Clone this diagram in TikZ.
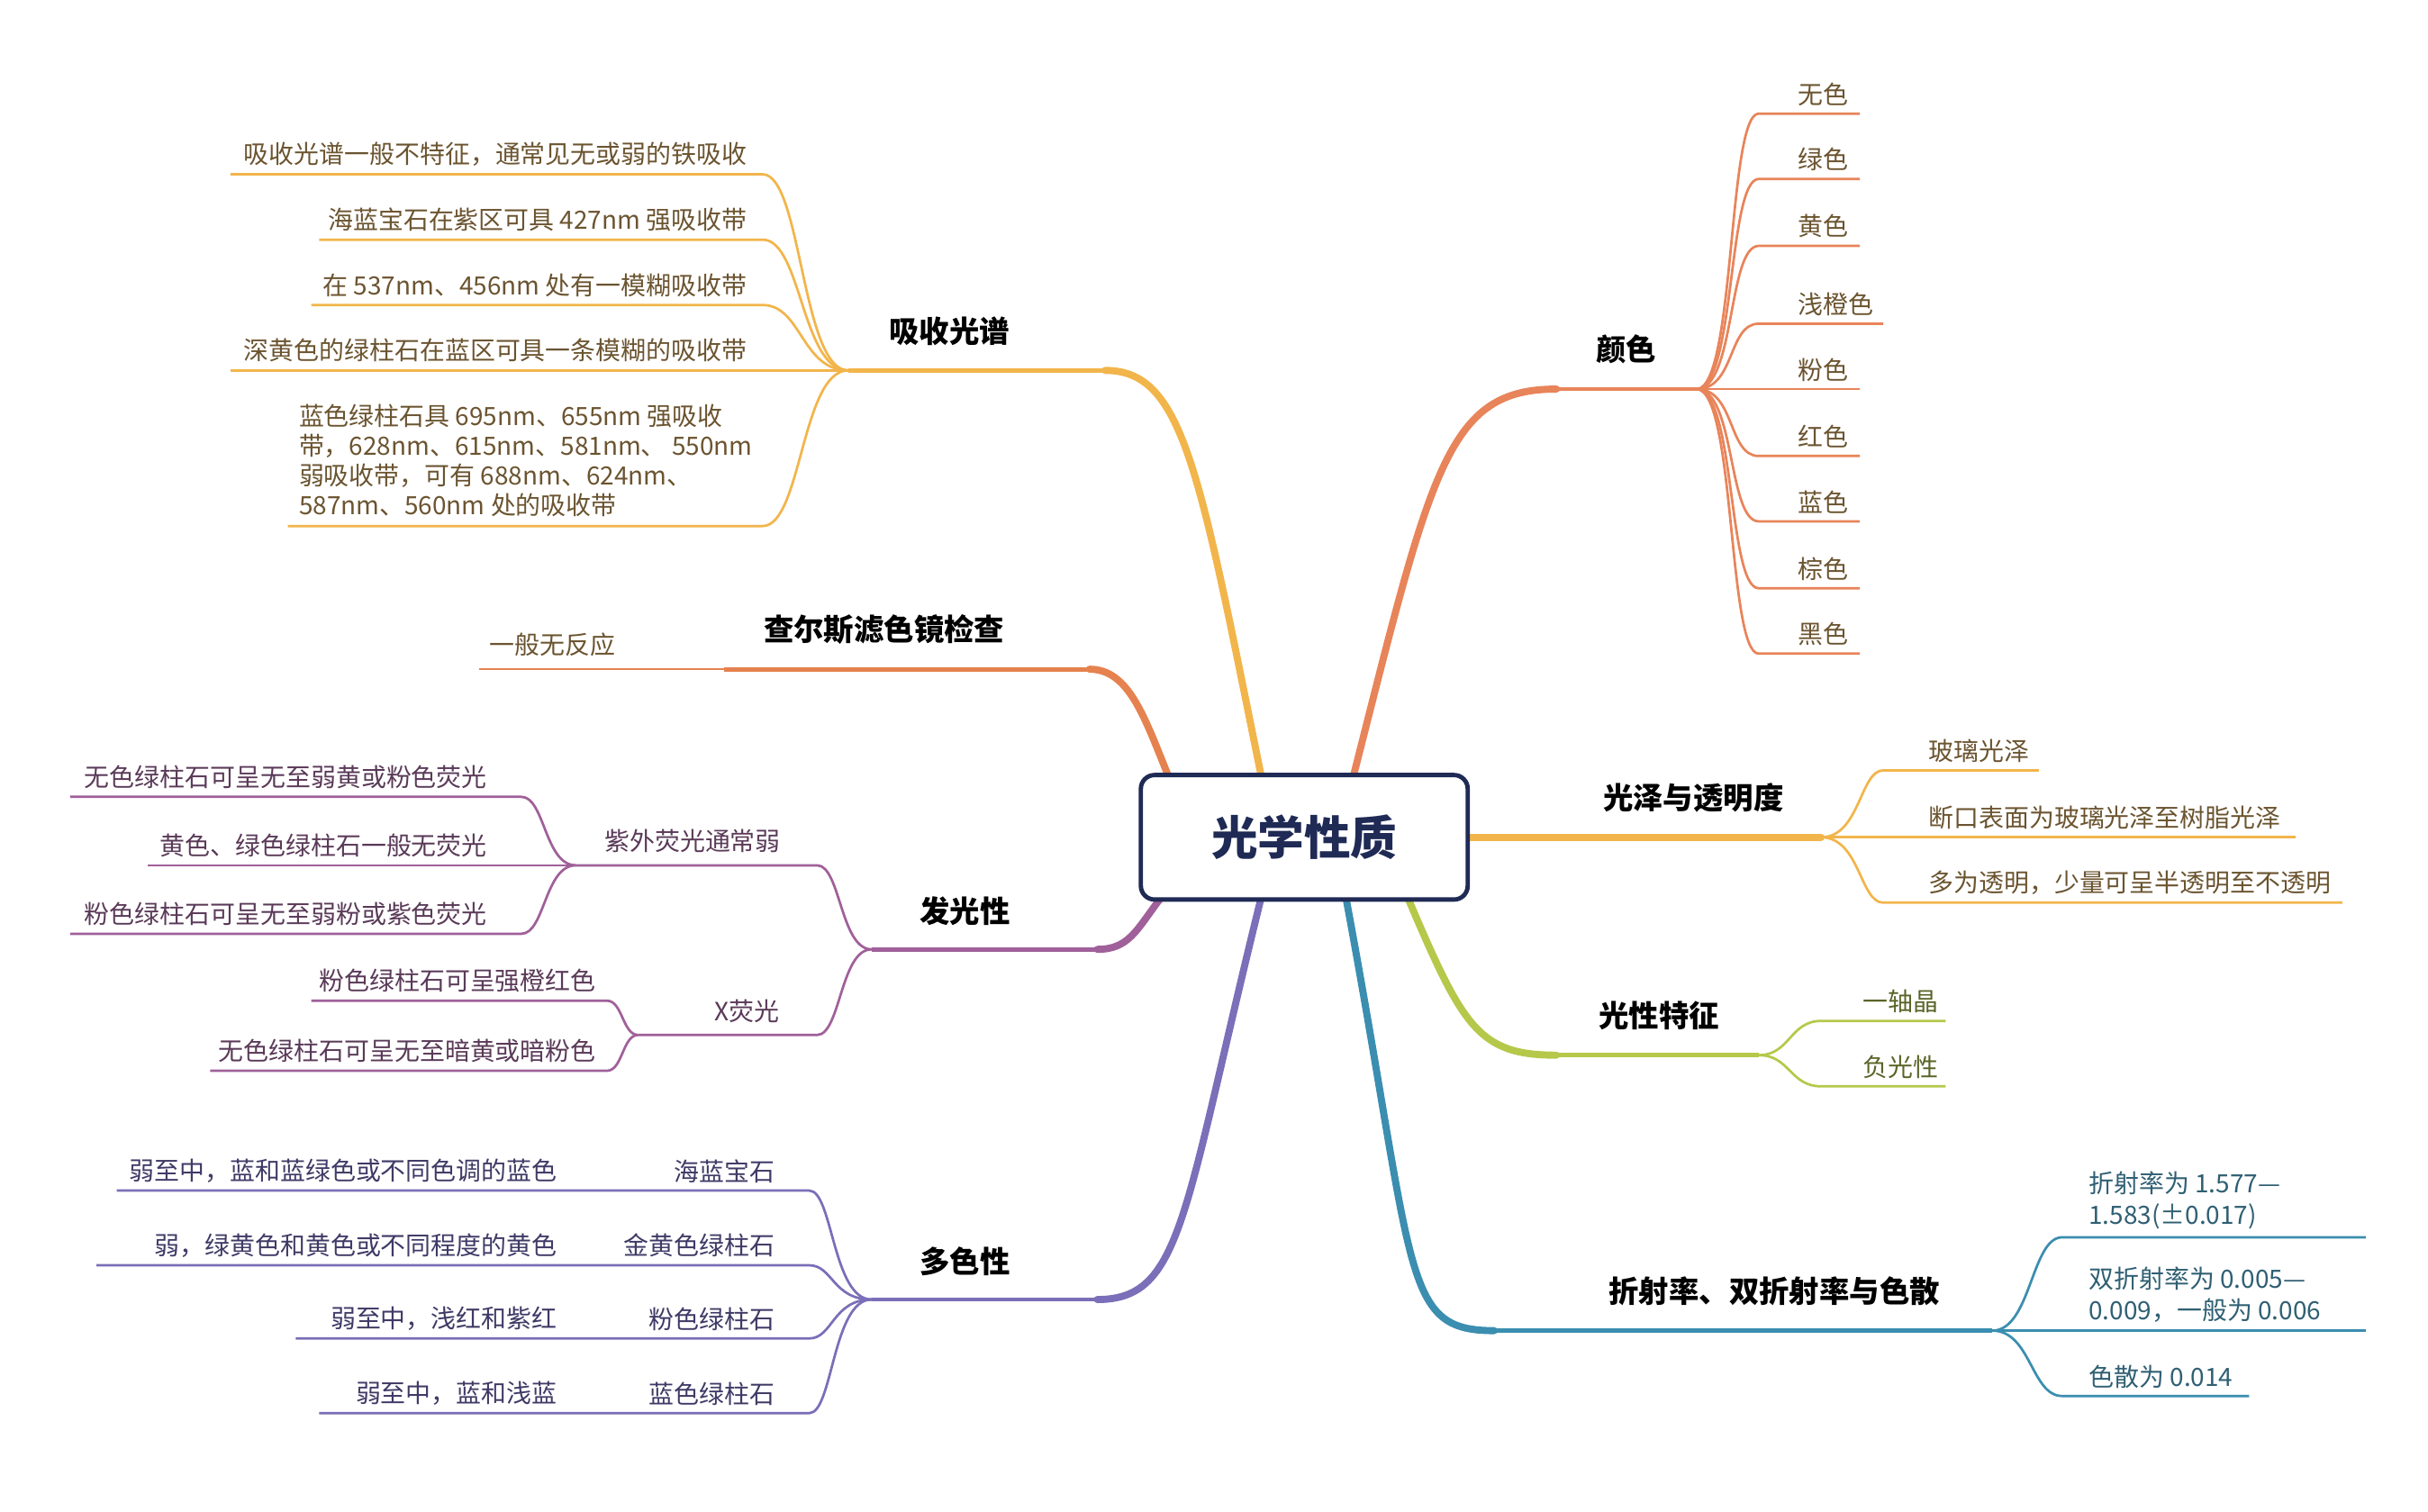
\documentclass[tikz,border=0pt]{standalone}
\usepackage{fontspec}
\setmainfont{Noto Sans CJK SC}
\begin{document}
\begin{tikzpicture}[x=0.02cm,y=-0.02cm,
 br/.style={line width=2.6pt,line cap=round},
 ul/.style={line width=1.6pt},
 sub/.style={line width=0.9pt},
 ct/.style={font=\fontsize{9.2}{11.5}\selectfont,inner sep=1pt},
 hd/.style={font=\fontsize{11}{13}\selectfont\bfseries,inner sep=1pt}]
\definecolor{cab}{HTML}{F2B54B}\definecolor{cch}{HTML}{E5824F}
\definecolor{clu}{HTML}{A0609A}\definecolor{cpl}{HTML}{7A6FB8}
\definecolor{cco}{HTML}{E8845A}\definecolor{cgl}{HTML}{F2B54B}
\definecolor{cop}{HTML}{B6C84A}\definecolor{cre}{HTML}{3B8EB0}
\definecolor{tyl}{HTML}{6B5430}\definecolor{tpu}{HTML}{5A3A58}
\definecolor{tpl}{HTML}{3F3A66}\definecolor{tte}{HTML}{2F5F73}
\definecolor{tgr}{HTML}{5A6428}\definecolor{navy}{HTML}{1F2A55}
\useasboundingbox (0,0) rectangle (1560,971.5);
% center
\coordinate (cT1) at (810,497);\coordinate (cT2) at (750,497);
\coordinate (cL) at (745,578);\coordinate (cB1) at (810,578);
\coordinate (cT3) at (870,497);\coordinate (cR) at (943,538);
\coordinate (cB2) at (905,578);\coordinate (cB3) at (865,578);
% absorption
\coordinate (aE) at (710,238);\coordinate (aH) at (545,238);
\draw[br,cab] (cT1) .. controls (770,300) and (760,238) .. (aE);
\draw[ul,cab] (aE) -- (aH);
\node[hd,anchor=south] (aL) at (610,224) {吸收光谱};
\foreach \y/\xl/\t [count=\i] in {112/148/{吸收光谱一般不特征，通常见无或弱的铁吸收},154/205/{海蓝宝石在紫区可具 427nm 强吸收带},196/200/{在 537nm、456nm 处有一模糊吸收带},238/148/{深黄色的绿柱石在蓝区可具一条模糊的吸收带}}{
 \coordinate (a\i) at (490,\y);\coordinate (al\i) at (\xl,\y);
 \draw[sub,cab] (aH) .. controls (515,238) and (515,\y) .. (a\i) -- (al\i);
 \node[ct,tyl,anchor=south east] (at\i) at (482,\y-3) {\t};}
\coordinate (a5) at (490,338);\coordinate (al5) at (185,338);
\draw[sub,cab] (aH) .. controls (515,238) and (515,338) .. (a5) -- (al5);
\node[ct,tyl,anchor=south west,align=left,font=\fontsize{9.2}{10.9}\selectfont] (at5) at (190,334) {蓝色绿柱石具 695nm、655nm 强吸收\\带，628nm、615nm、581nm、 550nm\\弱吸收带，可有 688nm、624nm、\\587nm、560nm 处的吸收带};
% charles
\coordinate (chE) at (700,430);\coordinate (chH) at (465,430);\coordinate (chL) at (308,430);
\draw[br,cch] (cT2) .. controls (735,460) and (725,430) .. (chE);
\draw[ul,cch] (chE) -- (chH);\draw[sub,cch] (chH) -- (chL);
\node[hd,anchor=south] (chT) at (568,416) {查尔斯滤色镜检查};
\node[ct,tyl,anchor=south] (chc) at (355,424) {一般无反应};
% luminescence
\coordinate (lE) at (705,610);\coordinate (lH) at (560,610);
\draw[br,clu] (cL) .. controls (730,598) and (725,610) .. (lE);
\draw[ul,clu] (lE) -- (lH);
\node[hd,anchor=south] (lT) at (620,597) {发光性};
\coordinate (u1) at (525,556);\coordinate (u0) at (370,556);
\draw[sub,clu] (lH) .. controls (540,610) and (540,556) .. (u1) -- (u0);
\node[ct,tpu,anchor=south] (uT) at (445,550) {紫外荧光通常弱};
\foreach \y/\xl/\t [count=\i] in {512/45/{无色绿柱石可呈无至弱黄或粉色荧光},556/95/{黄色、绿色绿柱石一般无荧光},600/45/{粉色绿柱石可呈无至弱粉或紫色荧光}}{
 \coordinate (ue\i) at (335,\y);\coordinate (ul\i) at (\xl,\y);
 \draw[sub,clu] (u0) .. controls (350,556) and (350,\y) .. (ue\i) -- (ul\i);
 \node[ct,tpu,anchor=south east] (ut\i) at (315,\y-3) {\t};}
\coordinate (x1) at (525,665);\coordinate (x0) at (410,665);
\draw[sub,clu] (lH) .. controls (540,610) and (540,665) .. (x1) -- (x0);
\node[ct,tpu,anchor=south] (xT) at (480,659) {X荧光};
\foreach \y/\xl/\t [count=\i] in {643/200/{粉色绿柱石可呈强橙红色},688/135/{无色绿柱石可呈无至暗黄或暗粉色}}{
 \coordinate (xe\i) at (390,\y);\coordinate (xl\i) at (\xl,\y);
 \draw[sub,clu] (x0) .. controls (400,665) and (400,\y) .. (xe\i) -- (xl\i);
 \node[ct,tpu,anchor=south east] (xt\i) at (385,\y-3) {\t};}
% pleochroism
\coordinate (pE) at (705,835);\coordinate (pH) at (560,835);
\draw[br,cpl] (cB1) .. controls (760,780) and (760,835) .. (pE);
\draw[ul,cpl] (pE) -- (pH);
\node[hd,anchor=south] (pT) at (620,822) {多色性};
\foreach \y/\xl/\a/\b [count=\i] in {765/75/{海蓝宝石}/{弱至中，蓝和蓝绿色或不同色调的蓝色},813/62/{金黄色绿柱石}/{弱，绿黄色和黄色或不同程度的黄色},860/190/{粉色绿柱石}/{弱至中，浅红和紫红},908/205/{蓝色绿柱石}/{弱至中，蓝和浅蓝}}{
 \coordinate (pe\i) at (520,\y);\coordinate (pl\i) at (\xl,\y);
 \draw[sub,cpl] (pH) .. controls (535,835) and (535,\y) .. (pe\i) -- (pl\i);
 \node[ct,tpl,anchor=south east] (pa\i) at (500,\y-3) {\a};
 \node[ct,tpl,anchor=south east] (pb\i) at (360,\y-3) {\b};}
% colour
\coordinate (coE) at (1000,250);\coordinate (coH) at (1090,250);
\draw[br,cco] (cT3) .. controls (920,300) and (930,250) .. (coE);
\draw[ul,cco] (coE) -- (coH);
\node[hd,anchor=south] (coT) at (1045,236) {颜色};
\foreach \y/\xr/\t [count=\i] in {73/1195/无色,115/1195/绿色,158/1195/黄色,208/1210/浅橙色,250/1195/粉色,293/1195/红色,335/1195/蓝色,378/1195/棕色,420/1195/黑色}{
 \coordinate (cs\i) at (1130,\y);\coordinate (ce\i) at (\xr,\y);
 \draw[sub,cco] (coH) .. controls (1115,250) and (1110,\y) .. (cs\i) -- (ce\i);
 \node[ct,tyl,anchor=south west] (ctx\i) at (1153,\y-3) {\t};}
% luster
\coordinate (gE) at (1170,538);
\draw[br,cgl] (cR) -- (gE);
\node[hd,anchor=south] (gT) at (1088,524) {光泽与透明度};
\foreach \y/\xr/\t [count=\i] in {495/1310/玻璃光泽,538/1475/断口表面为玻璃光泽至树脂光泽,580/1505/多为透明，少量可呈半透明至不透明}{
 \coordinate (gs\i) at (1210,\y);\coordinate (ge\i) at (\xr,\y);
 \draw[sub,cgl] (gE) .. controls (1195,538) and (1195,\y) .. (gs\i) -- (ge\i);
 \node[ct,tyl,anchor=south west] (gt\i) at (1237,\y-3) {\t};}
% optic
\coordinate (oS) at (1000,678);\coordinate (oE) at (1130,678);
\draw[br,cop] (cB2) .. controls (940,660) and (950,678) .. (oS);
\draw[ul,cop] (oS) -- (oE);
\node[hd,anchor=south] (oT) at (1066,664) {光性特征};
\foreach \y/\t [count=\i] in {656/一轴晶,698/负光性}{
 \coordinate (os\i) at (1170,\y);\coordinate (oe\i) at (1250,\y);
 \draw[sub,cop] (oE) .. controls (1150,678) and (1150,\y) .. (os\i) -- (oe\i);
 \node[ct,tgr,anchor=south west] (ot\i) at (1195,\y-3) {\t};}
% refraction
\coordinate (rS) at (960,855);\coordinate (rE) at (1280,855);
\draw[br,cre] (cB3) .. controls (910,820) and (900,855) .. (rS);
\draw[ul,cre] (rS) -- (rE);
\node[hd,anchor=south] (rT) at (1140,841) {折射率、双折射率与色散};
\foreach \y/\xr [count=\i] in {795/1520,855/1520,897/1445}{
 \coordinate (rs\i) at (1325,\y);\coordinate (re\i) at (\xr,\y);
 \draw[sub,cre] (rE) .. controls (1305,855) and (1305,\y) .. (rs\i) -- (re\i);}
\node[ct,tte,anchor=south west,align=left] (rt1) at (1340,792) {折射率为 1.577—\\1.583(±0.017)};
\node[ct,tte,anchor=south west,align=left] (rt2) at (1340,852) {双折射率为 0.005—\\0.009，一般为 0.006};
\node[ct,tte,anchor=south west] (rt3) at (1340,894) {色散为 0.014};
% center box
\node[draw=navy,line width=1.6pt,rounded corners=5pt,fill=white,minimum width=210*0.02cm,minimum height=80*0.02cm,font=\fontsize{17}{20}\selectfont\bfseries,text=navy] (c) at (838,538) {光学性质};
\end{tikzpicture}
\end{document}
